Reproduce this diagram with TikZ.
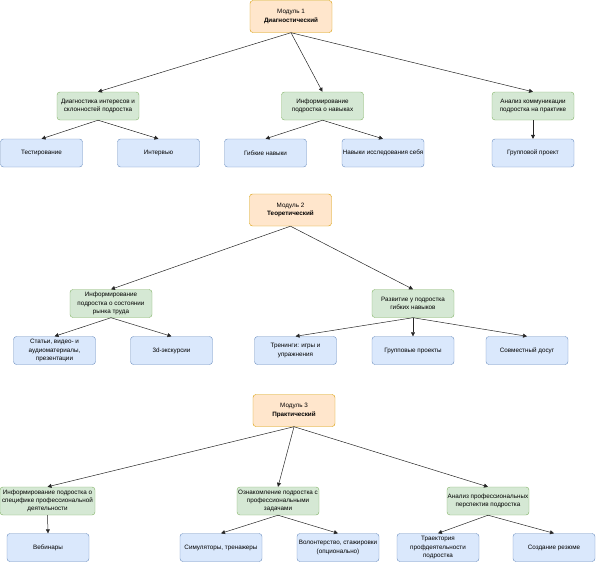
\documentclass[tikz,border=0pt]{standalone}
\usepackage{fontspec}
\setmainfont{Liberation Sans}
\usetikzlibrary{arrows.meta}

\definecolor{modfill}{HTML}{FFE6CC}
\definecolor{moddraw}{HTML}{D79B00}
\definecolor{grpfill}{HTML}{D5E8D4}
\definecolor{grpdraw}{HTML}{82B366}
\definecolor{itemfill}{HTML}{DAE8FC}
\definecolor{itemdraw}{HTML}{6C8EBF}

\begin{document}
\begin{tikzpicture}[x=1pt, y=-1pt]
	\tikzset{box/.style = {rectangle, rounded corners=3pt, align=center,
	inner sep=0.5pt, minimum width=82pt, minimum height=28pt,
	font=\fontsize{6.3}{8.2}\selectfont},
	modbox/.style = {box, draw=moddraw, fill=modfill, minimum height=32pt},
	grpbox/.style = {box, draw=grpdraw, fill=grpfill},
	itembox/.style = {box, draw=itemdraw, fill=itemfill},
	link/.style = {draw=black!85, line width=0.5pt,
	-{Triangle[length=4pt, width=4pt]}}}
	
	\useasboundingbox (0, 0) rectangle (596, 562);
	
	\node[modbox] (m_1) at (291, 16.5) {Модуль 1\\\textbf{Диагностический}};
	\node[grpbox] (g_diag) at (98, 106) {Диагностика интересов и\\склонностей подростка};
	\node[grpbox] (g_inf) at (322.5, 106) {Информирование\\подростка о навыках};
	\node[grpbox] (g_comm) at (533, 106) {Анализ коммуникации\\подростка на практике};
	\node[itembox] (i_test) at (41.5, 153) {Тестирование};
	\node[itembox] (i_interv) at (158.5, 153) {Интервью};
	\node[itembox] (i_soft) at (265.5, 153) {Гибкие навыки};
	\node[itembox] (i_self) at (383, 153) {Навыки исследования себя};
	\node[itembox] (i_group) at (533, 153) {Групповой проект};
	
	\node[modbox] (m_2) at (290.5, 210) {Модуль 2\\\textbf{Теоретический}};
	\node[grpbox] (g_market) at (111, 303.5) {Информирование\\подростка о состоянии\\рынка труда};
	\node[grpbox] (g_skills) at (413, 303.5) {Развитие у подростка\\гибких навыков};
	\node[itembox] (i_media) at (54.5, 350.5) {Статьи, видео- и\\аудиоматериалы,\\презентации};
	\node[itembox] (i_tour) at (171.5, 350.5) {3d-экскурсии};
	\node[itembox] (i_train) at (295.5, 350.5) {Тренинги: игры и\\упражнения};
	\node[itembox] (i_proj) at (413, 350.5) {Групповые проекты};
	\node[itembox] (i_leisure) at (527, 350.5) {Совместный досуг};
	
	\node[modbox] (m_3) at (294, 410.5) {Модуль 3\\\textbf{Практический}};
	\node[grpbox, minimum width=95pt] (g_spec) at (47.5, 501) {Информирование подростка о\\специфике профессиональной\\деятельности};
	\node[grpbox] (g_tasks) at (278, 501) {Ознакомление подростка с\\профессиональными\\задачами};
	\node[grpbox] (g_persp) at (488, 501) {Анализ профессиональных\\перспектив подростка};
	\node[itembox] (i_web) at (48, 547.5) {Вебинары};
	\node[itembox] (i_sim) at (221, 547.5) {Симуляторы, тренажеры};
	\node[itembox] (i_vol) at (338, 547.5) {Волонтерство, стажировки\\(опционально)};
	\node[itembox] (i_path) at (438, 547.5) {Траектория\\профдеятельности\\подростка};
	\node[itembox] (i_cv) at (554, 547.5) {Создание резюме};
	
	\draw[link] (m_1.south) -- (g_diag.north);
	\draw[link] (m_1.south) -- (g_inf.north);
	\draw[link] (m_1.south) -- (g_comm.north);
	\draw[link] (g_diag.south) -- (i_test.north);
	\draw[link] (g_diag.south) -- (i_interv.north);
	\draw[link] (g_inf.south) -- (i_soft.north);
	\draw[link] (g_inf.south) -- (i_self.north);
	\draw[link] (g_comm.south) -- (i_group.north);
	
	\draw[link] (m_2.south) -- (g_market.north);
	\draw[link] (m_2.south) -- (g_skills.north);
	\draw[link] (g_market.south) -- (i_media.north);
	\draw[link] (g_market.south) -- (i_tour.north);
	\draw[link] (g_skills.south) -- (i_train.north);
	\draw[link] (g_skills.south) -- (i_proj.north);
	\draw[link] (g_skills.south) -- (i_leisure.north);
	
	\draw[link] (m_3.south) -- (g_spec.north);
	\draw[link] (m_3.south) -- (g_tasks.north);
	\draw[link] (m_3.south) -- (g_persp.north);
	\draw[link] (g_spec.south) -- (i_web.north);
	\draw[link] (g_tasks.south) -- (i_sim.north);
	\draw[link] (g_tasks.south) -- (i_vol.north);
	\draw[link] (g_persp.south) -- (i_path.north);
	\draw[link] (g_persp.south) -- (i_cv.north);
\end{tikzpicture}
\end{document}
